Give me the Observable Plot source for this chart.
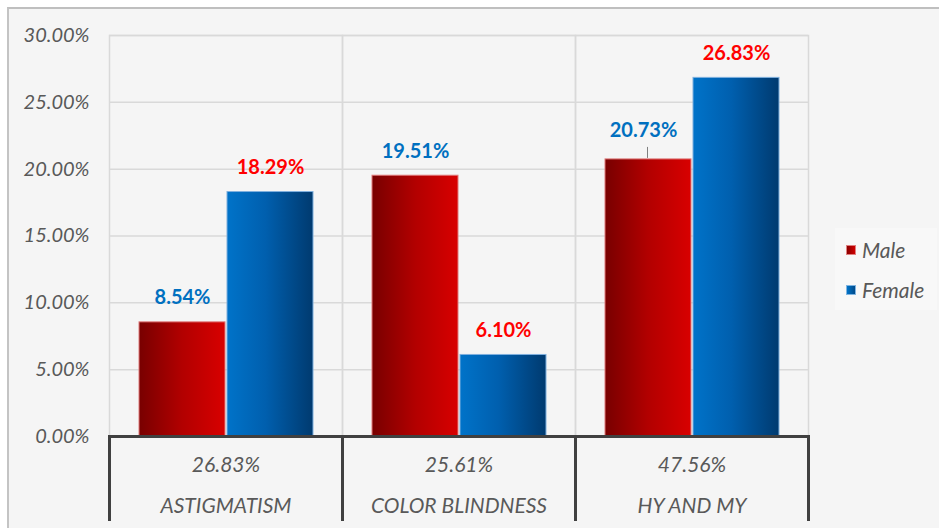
<!DOCTYPE html>
<html><head><meta charset="utf-8">
<script src="https://cdn.jsdelivr.net/npm/d3@7"></script>
<script src="https://cdn.jsdelivr.net/npm/@observablehq/plot@0.6"></script>
<style>
html,body{margin:0;padding:0;background:#fff;width:939px;height:528px;overflow:hidden;}
#bg{position:absolute;left:7px;top:7px;width:932px;height:521px;border-top:2px solid #bfbfbf;border-left:2px solid #c4c4c4;background:#f5f5f5;box-sizing:border-box;}
#chart{position:absolute;left:0;top:0;}
#legend{position:absolute;left:835px;top:228px;width:102px;height:82px;background:#f8f8f8;font-family:Lato,sans-serif;font-style:italic;font-size:21px;color:#595959;}
#legend .sw{position:absolute;left:11px;width:10px;height:10px;box-sizing:border-box;}
#legend .lb{position:absolute;left:27px;line-height:22px;}
</style>
</head><body>
<div id="bg"></div>
<div id="chart"></div>
<div id="legend"></div>
<script>
const categories = ["ASTIGMATISM", "COLOR BLINDNESS", "HY AND MY"];
const totals = [26.83, 25.61, 47.56];
const series = ["Male", "Female"];
const maleValues = [8.54, 19.51, 20.73];
const femaleValues = [18.29, 6.10, 26.83];
const yTicks = [0, 5, 10, 15, 20, 25, 30];
const leaderLabelCats = ["HY AND MY"]; // male label pulled off its bar with a leader line

const maleData = categories.map((c, i) => ({cat: c, sex: "Male", value: maleValues[i]}));
const femaleData = categories.map((c, i) => ({cat: c, sex: "Female", value: femaleValues[i]}));
const maleNormal = maleData.filter(d => !leaderLabelCats.includes(d.cat));
const maleLeader = maleData.filter(d => leaderLabelCats.includes(d.cat));
const pct = v => v.toFixed(2) + "%";
const textGray = "#595959";
const labelStyle = {fx: "cat", x: "sex", y: "value", text: d => pct(d.value), lineAnchor: "bottom", fontWeight: "bold", fontSize: 20};

const plot = Plot.plot({
  width: 939, height: 521,
  marginLeft: 109, marginRight: 131, marginTop: 35, marginBottom: 85,
  style: {background: "transparent", fontFamily: "Lato, sans-serif"},
  fx: {domain: categories, padding: 0, axis: null},
  x: {domain: series, paddingInner: 0.023, paddingOuter: 0.33, axis: null},
  y: {domain: [0, 30], axis: null},
  marks: [
    Plot.gridY(yTicks, {stroke: "#d9d9d9", strokeOpacity: 1, strokeWidth: 1.5}),
    Plot.frame({stroke: "#d9d9d9", strokeWidth: 1.5}),
    Plot.barY(maleData, {fx: "cat", x: "sex", y: "value", fill: "url(#gradMale)", stroke: "#e07a7a", strokeWidth: 1}),
    Plot.barY(femaleData, {fx: "cat", x: "sex", y: "value", fill: "url(#gradFemale)", stroke: "#7fb0de", strokeWidth: 1}),
    Plot.frame({stroke: "#404040", strokeWidth: 3, insetTop: 401, insetBottom: -90}),
    Plot.ruleX(maleLeader, {fx: "cat", x: "sex", y1: "value", y2: "value", insetTop: -12, insetBottom: 1, dx: -1, stroke: "#808080", strokeWidth: 1}),
    Plot.text(maleNormal, {...labelStyle, dy: -18, fill: "#0070c0"}),
    Plot.text(maleLeader, {...labelStyle, dx: -5, dy: -22, fill: "#0070c0"}),
    Plot.text(femaleData, {...labelStyle, dy: -18, fill: "#ff0000"}),
    Plot.axisY(yTicks, {tickSize: 0, tickPadding: 20, tickFormat: pct, fontSize: 20, fontStyle: "italic", color: textGray, label: null}),
    Plot.axisFx({anchor: "bottom", tickSize: 0, tickPadding: 21, tickFormat: d => pct(totals[categories.indexOf(d)]), fontSize: 21, fontStyle: "italic", color: textGray, label: null}),
    Plot.axisFx({anchor: "bottom", tickSize: 0, tickPadding: 62, fontSize: 21, fontStyle: "italic", color: textGray, label: null})
  ]
});

const svg = plot.tagName.toLowerCase() === "svg" ? plot : plot.querySelector("svg");
const defs = document.createElementNS("http://www.w3.org/2000/svg", "defs");
defs.innerHTML = `
<linearGradient id="gradMale" x1="0" y1="0" x2="1" y2="0">
  <stop offset="0" stop-color="#780000"/>
  <stop offset="0.5" stop-color="#b20000"/>
  <stop offset="1" stop-color="#d80000"/>
</linearGradient>
<linearGradient id="gradFemale" x1="0" y1="0" x2="1" y2="0">
  <stop offset="0" stop-color="#0073c9"/>
  <stop offset="0.45" stop-color="#005fae"/>
  <stop offset="1" stop-color="#003a6f"/>
</linearGradient>`;
svg.insertBefore(defs, svg.firstChild);
document.getElementById("chart").appendChild(plot);

const legend = document.getElementById("legend");
const swatches = [
  {bg: "linear-gradient(90deg,#8a0000,#d00000)", border: "#e08080", top: 17, ltop: 11},
  {bg: "linear-gradient(90deg,#0073c9,#004a8a)", border: "#80b4e0", top: 57, ltop: 51}
];
series.forEach((s, i) => {
  const sw = document.createElement("div");
  sw.className = "sw";
  sw.style.top = swatches[i].top + "px";
  sw.style.background = swatches[i].bg;
  sw.style.border = "1px solid " + swatches[i].border;
  legend.appendChild(sw);
  const lb = document.createElement("div");
  lb.className = "lb";
  lb.style.top = swatches[i].ltop + "px";
  lb.textContent = s;
  legend.appendChild(lb);
});
</script>
</body></html>
